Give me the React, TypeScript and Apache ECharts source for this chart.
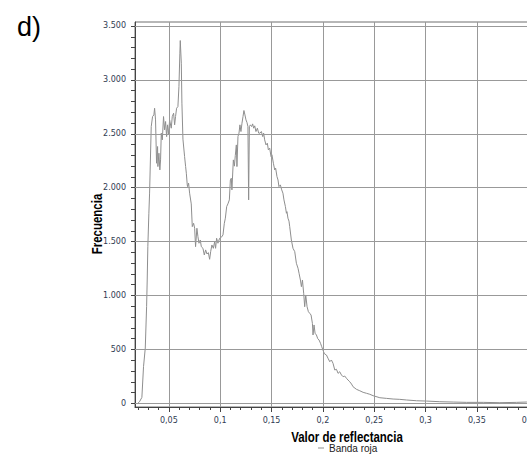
import React, { useEffect, useRef } from "react";
import * as echarts from "echarts";

// Reflectance (x) and frequency (y)
const reflectance = [
  0.0198, 0.0214, 0.0237, 0.0253, 0.027, 0.0283, 0.0289, 0.0295, 0.0305, 0.0312,
  0.0328, 0.0341, 0.0354, 0.0361, 0.037, 0.038, 0.039, 0.0393, 0.0403, 0.0412,
  0.0419, 0.0426, 0.0436, 0.0448, 0.0458, 0.0468, 0.0478, 0.0487, 0.0497, 0.0507,
  0.0523, 0.0533, 0.0546, 0.0556, 0.0565, 0.0575, 0.0588, 0.0598, 0.0607, 0.0611,
  0.0621, 0.0627, 0.0637, 0.0653, 0.0663, 0.067, 0.0679, 0.0682, 0.0692, 0.0702,
  0.0718, 0.0728, 0.0741, 0.0751, 0.076, 0.0773, 0.0783, 0.0793, 0.0806, 0.0816,
  0.0832, 0.0845, 0.0858, 0.0871, 0.0884, 0.0897, 0.0907, 0.0919, 0.0933, 0.0946,
  0.0955, 0.0965, 0.0978, 0.0994, 0.1011, 0.1027, 0.104, 0.105, 0.1063, 0.1075,
  0.1089, 0.1099, 0.1108, 0.1114, 0.1128, 0.1138, 0.1147, 0.1157, 0.1163, 0.1173,
  0.1183, 0.1192, 0.1202, 0.1212, 0.1222, 0.1231, 0.1241, 0.1251, 0.1261, 0.127,
  0.1277, 0.1284, 0.1294, 0.1306, 0.1316, 0.1326, 0.1336, 0.1348, 0.1362, 0.1375,
  0.1387, 0.1401, 0.1414, 0.1423, 0.1433, 0.1446, 0.1459, 0.1469, 0.1482, 0.1495,
  0.1504, 0.1518, 0.1531, 0.154, 0.1553, 0.1563, 0.1572, 0.1586, 0.1599, 0.1611,
  0.1621, 0.1635, 0.1645, 0.165, 0.166, 0.167, 0.1677, 0.1693, 0.1709, 0.1726,
  0.1742, 0.1758, 0.1768, 0.1781, 0.1791, 0.1801, 0.1813, 0.1823, 0.1833, 0.1846,
  0.1859, 0.1872, 0.1885, 0.1898, 0.1904, 0.1914, 0.1924, 0.1937, 0.195, 0.1963,
  0.1977, 0.1989, 0.2002, 0.2015, 0.2035, 0.205, 0.2067, 0.2083, 0.2099, 0.2116,
  0.2132, 0.2148, 0.2164, 0.2181, 0.2197, 0.2213, 0.223, 0.2245, 0.2262, 0.2279,
  0.2294, 0.2327, 0.2359, 0.2392, 0.2425, 0.2457, 0.2489, 0.2555, 0.262, 0.2684,
  0.2749, 0.2815, 0.2912, 0.301, 0.3139, 0.3269, 0.34, 0.3562, 0.3724, 0.3887,
  0.3985, 0.41, 0.425,
];

const frequency = [
  0, 15, 55, 340, 513, 897, 1144, 1453, 1763, 1950,
  2567, 2660, 2675, 2737, 2629, 2227, 2382, 2196, 2320, 2165,
  2258, 2506, 2444, 2660, 2537, 2614, 2474, 2583, 2490, 2629,
  2552, 2660, 2691, 2583, 2660, 2737, 2753, 2939, 3248, 3365,
  3155, 2784, 2450, 2289, 2196, 2134, 2026, 2010, 2042, 1949,
  1850, 1639, 1670, 1624, 1453, 1624, 1546, 1485, 1515, 1453,
  1438, 1376, 1423, 1385, 1398, 1336, 1407, 1469, 1438, 1500,
  1438, 1531, 1485, 1531, 1540, 1562, 1670, 1717, 1825, 1850,
  1887, 2072, 2088, 1980, 2258, 2200, 2300, 2397, 2196, 2475,
  2506, 2583, 2521, 2598, 2660, 2716, 2675, 2629, 2604, 2567,
  1887, 2567, 2583, 2567, 2592, 2552, 2574, 2521, 2552, 2506,
  2506, 2521, 2474, 2506, 2444, 2397, 2413, 2351, 2367, 2289,
  2305, 2227, 2165, 2181, 2103, 2072, 2010, 2026, 1980, 1949,
  1887, 1825, 1763, 1778, 1717, 1690, 1639, 1515, 1438, 1407,
  1299, 1253, 1206, 1144, 1082, 1144, 1021, 896, 1005, 896,
  850, 835, 819, 742, 634, 727, 650, 634, 600, 587,
  557, 525, 490, 460, 448, 418, 386, 402, 371, 309,
  316, 278, 293, 263, 247, 253, 232, 216, 200, 179,
  154, 130, 117, 102, 93, 84, 71, 52, 46, 40,
  37, 31, 24, 21, 15, 12, 9, 9, 6, 9,
  12, 8, 6,
];

// Tick labels
const xTickLabels = [0.05, 0.1, 0.15, 0.2, 0.25, 0.3, 0.35, 0.4];
const yTickLabels = [0, 500, 1000, 1500, 2000, 2500, 3000, 3500];
const xMinorTicks = [
  0.02, 0.03, 0.04, 0.05, 0.06, 0.07, 0.08, 0.09, 0.1, 0.11, 0.12, 0.13, 0.14, 0.15,
  0.16, 0.17, 0.18, 0.19, 0.2, 0.21, 0.22, 0.23, 0.24, 0.25, 0.26, 0.27, 0.28, 0.29,
  0.3, 0.31, 0.32, 0.33, 0.34, 0.35, 0.36, 0.37, 0.38, 0.39, 0.4, 0.41, 0.42, 0.43,
];
const yMinorTicks = [
  0, 100, 200, 300, 400, 500, 600, 700, 800, 900, 1000, 1100, 1200, 1300, 1400, 1500,
  1600, 1700, 1800, 1900, 2000, 2100, 2200, 2300, 2400, 2500, 2600, 2700, 2800, 2900,
  3000, 3100, 3200, 3300, 3400, 3500,
];

const SERIES_NAME = "Banda roja";
const X_NAME = "Valor de reflectancia";
const Y_NAME = "Frecuencia";
const PANEL = "d)";

const X_MIN = 0.017;
const X_MAX = 0.43;
const Y_MIN = -34;
const Y_MAX = 3537;

const fmtX = (v: number) => String(v).replace(".", ",");
const fmtY = (v: number) =>
  v >= 1000 ? `${Math.floor(v / 1000)}.${String(v % 1000).padStart(3, "0")}` : String(v);

export default function App() {
  const ref = useRef<HTMLDivElement>(null);

  useEffect(() => {
    if (!ref.current) return;
    const chart = echarts.init(ref.current, undefined, { renderer: "svg" });
    const n = Math.min(reflectance.length, frequency.length);
    const data = [];
    for (let i = 0; i < n; i++) data.push([reflectance[i], frequency[i]]);

    const tickFont = { fontSize: 8, fontFamily: "DejaVu Sans", color: "#2f3a52" };
    const nameFontCss = "bold 14px 'Liberation Sans', Arial, sans-serif";

    chart.setOption({
      animation: false,
      title: {
        text: PANEL,
        left: 12,
        top: 8,
        textStyle: {
          fontSize: 27,
          fontWeight: "normal",
          fontFamily: "'Liberation Sans', Arial, sans-serif",
          color: "#000",
        },
      },
      legend: {
        data: [SERIES_NAME],
        left: 313,
        top: 438,
        icon: "rect",
        itemWidth: 6,
        itemHeight: 1,
        textStyle: { fontSize: 10, fontFamily: "'Liberation Sans', Arial, sans-serif", color: "#222" },
      },
      grid: {
        left: 135,
        right: -32,
        top: 22,
        bottom: 48,
        show: true,
        borderColor: "#6f6f6f",
        borderWidth: 1,
        containLabel: false,
        outerBoundsMode: "none",
      },
      xAxis: [
        {
          type: "value",
          min: X_MIN,
          max: X_MAX,
          position: "bottom",
          axisLine: { show: true, onZero: false, lineStyle: { color: "#444", width: 1 } },
          axisTick: { show: true, customValues: xMinorTicks, length: 3, lineStyle: { color: "#444" } },
          axisLabel: { customValues: xTickLabels, formatter: fmtX, margin: 9, ...tickFont },
          splitLine: { show: false },
        },
        {
          type: "value",
          min: X_MIN,
          max: X_MAX,
          position: "bottom",
          axisLine: { show: false, onZero: false },
          axisTick: { show: true, customValues: xTickLabels, length: 5, lineStyle: { color: "#444" } },
          axisLabel: { show: false },
          splitLine: { show: false },
        },
      ],
      yAxis: {
        type: "value",
        min: Y_MIN,
        max: Y_MAX,
        axisLine: { show: true, onZero: false, lineStyle: { color: "#444", width: 1 } },
        axisTick: { show: true, customValues: yMinorTicks, length: 4, lineStyle: { color: "#444" } },
        axisLabel: { customValues: yTickLabels, formatter: fmtY, margin: 9, ...tickFont },
        splitLine: { show: false },
      },
      graphic: [
        {
          type: "text",
          x: 97,
          y: 224,
          rotation: Math.PI / 2,
          scaleX: 0.82,
          style: {
            text: Y_NAME,
            textAlign: "center",
            textVerticalAlign: "middle",
            fill: "#000",
            font: nameFontCss,
          },
        },
        {
          type: "text",
          x: 347,
          y: 437,
          scaleX: 0.82,
          style: {
            text: X_NAME,
            textAlign: "center",
            textVerticalAlign: "middle",
            fill: "#000",
            font: nameFontCss,
          },
        },
      ],
      series: [
        {
          name: "grid",
          type: "line",
          data: [],
          z: 1,
          silent: true,
          markLine: {
            silent: true,
            symbol: ["none", "none"],
            label: { show: false },
            emphasis: { disabled: true },
            lineStyle: { color: "#999", width: 1, type: "solid" },
            data: [
              ...xTickLabels.map((v) => ({ xAxis: v })),
              ...yTickLabels.map((v) => ({ yAxis: v })),
            ],
          },
        },
        {
          name: SERIES_NAME,
          type: "line",
          data,
          z: 3,
          symbol: "none",
          showSymbol: false,
          lineStyle: { color: "#8e8e8e", width: 1 },
          itemStyle: { color: "#8e8e8e" },
        },
      ],
    });
    return () => chart.dispose();
  }, []);

  return (
    <div
      ref={ref}
      style={{ position: "fixed", left: 0, top: 0, width: 527, height: 455, background: "#fff" }}
    />
  );
}
